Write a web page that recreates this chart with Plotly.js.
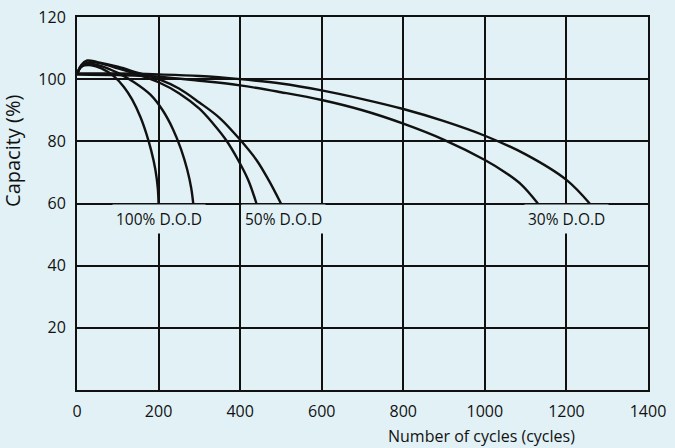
<!DOCTYPE html>
<html><head><meta charset="utf-8">
<script src="https://cdn.plot.ly/plotly-3.0.1.min.js"></script>
<style>html,body{margin:0;padding:0;background:#e1f1f6;} #chart{width:675px;height:448px;}</style>
</head><body><div id="chart"></div>
<script>
// Tick values
const xTicks = [0, 200, 400, 600, 800, 1000, 1200, 1400];
const yTicks = [20, 40, 60, 80, 100, 120];

// 100% D.O.D curves
const dod100aX = [0, 10, 35, 60, 90, 115, 135, 155, 170, 182, 192, 198, 200];
const dod100aY = [101.5, 104, 104.5, 103.5, 101, 97.5, 93.5, 88, 82.5, 77, 71, 65, 60];
const dod100bX = [0, 10, 30, 60, 100, 140, 180, 210, 235, 255, 270, 280, 285];
const dod100bY = [101.5, 104, 105, 104.2, 102, 99, 95, 90, 84, 77.5, 71, 65, 60];

// 50% D.O.D curves
const dod50aX = [0, 10, 30, 60, 100, 150, 200, 250, 300, 335, 365, 395, 420, 440];
const dod50aY = [101.5, 104, 105.5, 105, 103.5, 101.5, 99, 95.5, 90.5, 85.5, 80.5, 74, 67.5, 60];
const dod50bX = [0, 10, 25, 50, 100, 150, 200, 250, 300, 350, 400, 440, 470, 500];
const dod50bY = [101.5, 104.5, 106, 105.5, 104, 102, 100, 97, 92.5, 87.5, 80.5, 74, 67.5, 60];

// 30% D.O.D curves
const dod30aX = [0, 100, 200, 300, 400, 500, 600, 700, 800, 900, 1000, 1050, 1090, 1130];
const dod30aY = [101.5, 101.3, 100.8, 99.5, 98, 95.8, 93.3, 90, 85.7, 80.5, 74, 70, 66, 60];
const dod30bX = [0, 100, 200, 300, 400, 500, 600, 700, 800, 900, 1000, 1100, 1200, 1257];
const dod30bY = [101.8, 101.8, 101.5, 101, 100, 98.6, 96.4, 93.6, 90.4, 86.5, 81.8, 75.8, 67.6, 60];

const labels = ['100% D.O.D', '50% D.O.D', '30% D.O.D'];
const labelX = [200, 600, 1200];
const labelY = 55;

const BG = '#e1f1f6';
const INK = '#111111';
const FONT = '"Open Sans", "Noto Sans", sans-serif';

const series = [
  [dod100aX, dod100aY], [dod100bX, dod100bY],
  [dod50aX, dod50aY], [dod50bX, dod50bY],
  [dod30aX, dod30aY], [dod30bX, dod30bY]
];
const traces = series.map(s => ({
  x: s[0], y: s[1], type: 'scatter', mode: 'lines',
  line: {color: INK, width: 2.4, shape: 'spline', smoothing: 1},
  showlegend: false, hoverinfo: 'skip'
}));

const annotations = [
  {x: labelX[0], y: labelY, text: labels[0], xanchor: 'center', yanchor: 'middle'},
  {x: labelX[1], y: labelY, text: labels[1], xanchor: 'right', xshift: 4, yanchor: 'middle'},
  {x: labelX[2], y: labelY, text: labels[2], xanchor: 'center', yanchor: 'middle'}
].map(a => Object.assign(a, {xref: 'x', yref: 'y', showarrow: false, bgcolor: BG, borderpad: 3,
  font: {family: FONT, size: 15.5, color: INK}}));

annotations.push({xref: 'paper', yref: 'paper', x: 0.709, y: -0.123, xanchor: 'center', yanchor: 'middle',
  text: 'Number of cycles (cycles)', showarrow: false, font: {family: FONT, size: 16, color: INK}});
annotations.push({xref: 'paper', yref: 'paper', x: -0.112, y: 0.641, xanchor: 'center', yanchor: 'middle',
  textangle: -90, text: 'Capacity (%)', showarrow: false, font: {family: FONT, size: 20, color: INK}});

const axisCommon = {
  showgrid: true, gridcolor: INK, gridwidth: 2,
  showline: true, mirror: true, linecolor: INK, linewidth: 2,
  zeroline: false, ticks: '', tickfont: {family: FONT, size: 16, color: INK},
  fixedrange: true
};

const layout = {
  width: 675, height: 448,
  margin: {l: 77, r: 27, t: 17, b: 58},
  paper_bgcolor: BG, plot_bgcolor: 'rgba(0,0,0,0)',
  xaxis: Object.assign({}, axisCommon, {range: [0, 1400], tickvals: xTicks, ticktext: xTicks.map(String), ticklabelstandoff: 6}),
  yaxis: Object.assign({}, axisCommon, {range: [0, 120], tickvals: yTicks, ticktext: yTicks.map(String), ticklabelstandoff: 6}),
  annotations: annotations,
  showlegend: false
};

Plotly.newPlot('chart', traces, layout, {displayModeBar: false, staticPlot: true});
</script>
</body></html>
